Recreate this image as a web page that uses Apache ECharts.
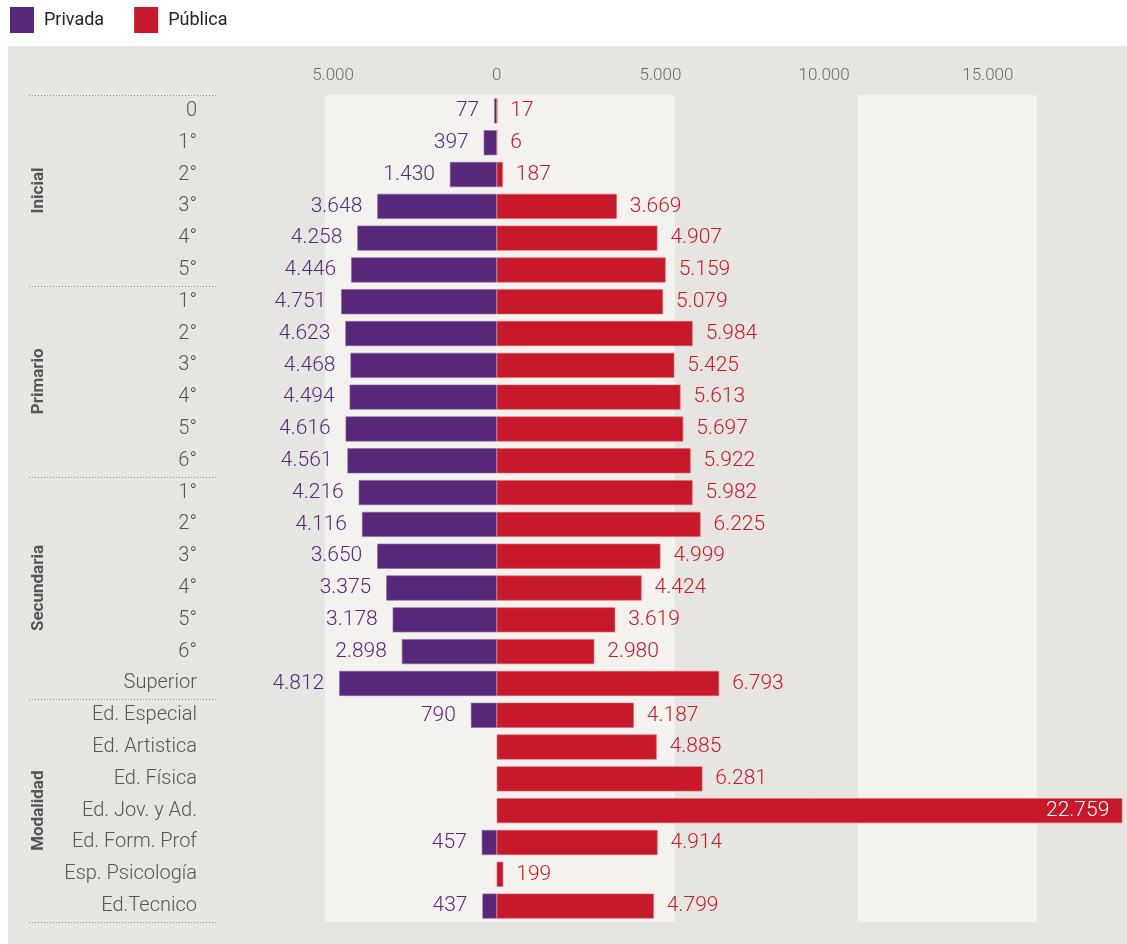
<!DOCTYPE html>
<html>
<head>
<meta charset="utf-8">
<script src="https://cdn.jsdelivr.net/npm/echarts@6/dist/echarts.min.js"></script>
<style>
html,body{margin:0;padding:0;background:#fff;}
#chart{width:1127px;height:944px;}
</style>
</head>
<body>
<div id="chart"></div>
<script>
// ---- data ----
const categories = ['0','1°','2°','3°','4°','5°',
  '1°','2°','3°','4°','5°','6°',
  '1°','2°','3°','4°','5°','6°','Superior',
  'Ed. Especial','Ed. Artistica','Ed. Física','Ed. Jov. y Ad.','Ed. Form. Prof','Esp. Psicología','Ed.Tecnico'];
const privada = [77,397,1430,3648,4258,4446,
  4751,4623,4468,4494,4616,4561,
  4216,4116,3650,3375,3178,2898,4812,
  790,null,null,null,457,null,437];
const publica = [17,6,187,3669,4907,5159,
  5079,5984,5425,5613,5697,5922,
  5982,6225,4999,4424,3619,2980,6793,
  4187,4885,6281,22759,4914,199,4799];
const groups = [
  {name:'Inicial', from:0, to:5},
  {name:'Primario', from:6, to:11},
  {name:'Secundaria', from:12, to:18},
  {name:'Modalidad', from:19, to:25}
];
const tickValues = [-5000, 0, 5000, 10000, 15000];
const bands = [[-5246, 5441], [11029, 16495]];

const PURPLE = '#57287a';
const RED = '#c8192b';
const fmt = v => String(Math.abs(v)).replace(/\B(?=(\d{3})+(?!\d))/g, '.');
const FONT = 'Roboto';
const AXIS_MAX = 19099;

const chart = echarts.init(document.getElementById('chart'), null, {renderer:'canvas'});

const option = {
  animation: false,
  backgroundColor: '#ffffff',
  textStyle: {fontFamily: FONT},
  legend: {
    data: ['Privada','Pública'],
    left: 10, top: 7, padding: 0,
    icon: 'rect',
    itemWidth: 24, itemHeight: 26,
    itemGap: 30,
    itemStyle: {borderWidth: 0},
    textStyle: {fontSize: 18, color: '#222', fontFamily: FONT, padding:[0,0,0,5]}
  },
  grid: {left: 325, right: 5, top: 95, bottom: 22, containLabel: false},
  xAxis: {
    type: 'value',
    position: 'top',
    min: -5246, max: AXIS_MAX,
    axisLine: {show:false}, axisTick: {show:false}, splitLine: {show:false},
    axisLabel: {
      customValues: tickValues,
      formatter: v => fmt(v),
      color: '#6b6b6b', fontSize: 17, fontWeight: 300, margin: 11, fontFamily: FONT
    }
  },
  yAxis: {
    type: 'category',
    inverse: true,
    data: categories,
    axisLine: {show:false}, axisTick: {show:false},
    axisLabel: {color:'#555', fontSize: 20, fontWeight: 300, margin: 128, fontFamily: FONT, interval: 0}
  },
  series: [
    {
      name: 'bands', type: 'line', data: [], z: 0, silent: true,
      markArea: {
        silent: true,
        itemStyle: {color: '#f3f2ee'},
        data: bands.map(b => [{xAxis: b[0]}, {xAxis: b[1]}])
      }
    },
    {
      name: 'Privada', type: 'bar', z: 3,
      barWidth: 25, barGap: '-100%',
      itemStyle: {color: PURPLE, borderColor: '#8466a0', borderWidth: 0.6},
      data: privada.map(v => v == null ? null : -v),
      label: {
        show: true, position: 'left', distance: 15,
        color: PURPLE, fontSize: 21, fontWeight: 300, fontFamily: FONT,
        formatter: p => p.value == null ? '' : fmt(p.value)
      }
    },
    {
      name: 'Pública', type: 'bar', z: 3,
      barWidth: 25, barGap: '-100%',
      clip: true,
      itemStyle: {color: RED, borderColor: '#e06470', borderWidth: 0.6},
      data: publica.map(v => {
        if (v > AXIS_MAX) {
          return {value: v, label: {position: 'insideRight', distance: 13, color: '#fff'}};
        }
        return v;
      }),
      label: {
        show: true, position: 'right', distance: 13,
        color: RED, fontSize: 21, fontWeight: 300, fontFamily: FONT,
        formatter: p => fmt(p.value)
      }
    }
  ]
};
chart.setOption(option);

// decorations: panel background, group separators and group titles (computed from the axis)
function decorate() {
  const yc = i => chart.convertToPixel({yAxisIndex: 0}, i);
  const half = (yc(1) - yc(0)) / 2;
  const els = [{
    type: 'rect', z: -10, silent: true,
    shape: {x: 8, y: 46, width: 1119, height: 898},
    style: {fill: '#e6e5e1'}
  }];
  const bounds = [yc(groups[0].from) - half];
  groups.forEach(g => bounds.push(yc(g.to) + half));
  bounds.forEach(y => {
    const yy = Math.round(y) + 0.5;
    els.push({
      type: 'line', silent: true, z: 1,
      shape: {x1: 29, y1: yy, x2: 218, y2: yy},
      style: {stroke: '#8a8a8a', lineWidth: 1, lineDash: [1, 2]}
    });
  });
  groups.forEach(g => {
    const cy = (yc(g.from) - half + yc(g.to) + half) / 2;
    els.push({
      type: 'text', silent: true, z: 1,
      x: 39, y: cy, rotation: Math.PI / 2,
      style: {
        text: g.name, fill: '#555', font: 'bold 17px ' + FONT,
        align: 'center', verticalAlign: 'middle'
      }
    });
  });
  chart.setOption({graphic: {elements: els}});
}
decorate();
</script>
</body>
</html>
